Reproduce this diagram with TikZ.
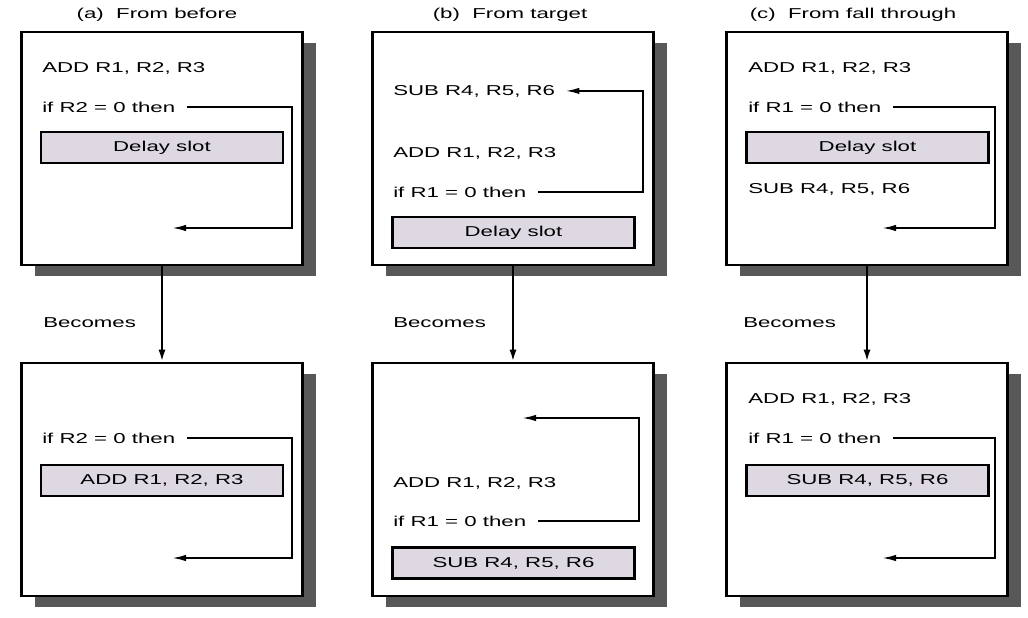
\documentclass[tikz,border=0pt]{standalone}
\usepackage{fontspec}
\usepackage{graphicx}
\setmainfont{Liberation Sans}
\usetikzlibrary{arrows.meta,positioning,shadows}
\definecolor{shadowgray}{RGB}{88,88,88}
\definecolor{slotgray}{RGB}{221,216,226}
\newcommand{\panelfont}{\fontsize{10.2pt}{12pt}\selectfont}
\newcommand{\wide}[1]{\scalebox{1.55}[1]{#1}}

\begin{document}
\begin{tikzpicture}[x=0.025cm, y=-0.025cm,
    panel/.style={rectangle, draw, line width=1.8pt, fill=white, minimum width=7.03cm, minimum height=5.83cm,
        drop shadow={shadow xshift=0.33cm, shadow yshift=-0.28cm, fill=shadowgray, opacity=1}},
    slot/.style={rectangle, draw, line width=1.6pt, fill=slotgray, minimum width=6.05cm, minimum height=0.77cm, inner sep=0pt, font=\panelfont},
    instr/.style={anchor=base west, inner sep=0pt, font=\panelfont},
    title/.style={font=\panelfont},
    jump/.style={line width=1.3pt, -{Latex[length=0.35cm, width=0.16cm]}},
    becomes/.style={line width=1.6pt, -{Latex[length=0.3cm, width=0.18cm]}}
]
    \useasboundingbox (0,0) rectangle (1028,618);

    % Panel boxes
    \node[panel] (topA) at (162,148.5) {};
    \node[panel] (botA) at (162,479.5) {};
    \node[panel] (topB) at (513,148.5) {};
    \node[panel] (botB) at (513,479.5) {};
    \node[panel] (topC) at (867,148.5) {};
    \node[panel] (botC) at (867,479.5) {};

    % Titles
    \node[title] (titleA) at (157,15) {\wide{(a)\ \ From before}};
    \node[title] (titleB) at (510,15) {\wide{(b)\ \ From target}};
    \node[title] (titleC) at (853,15) {\wide{(c)\ \ From fall through}};

    % Right edges of the jump loops
    \coordinate (rA) at (292,0);
    \coordinate (rB) at (643,0);
    \coordinate (rB2) at (639,0);
    \coordinate (rC) at (995,0);

    % (a) From before
    \node[instr] (addA) at (42,72) {\wide{ADD R1, R2, R3}};
    \node[instr] (ifA) at (42,112) {\wide{if R2 = 0 then}};
    \node[slot] (slotA) at (162,147.5) {\wide{Delay slot}};
    \coordinate (tA) at (172,228);
    \draw[jump] ([xshift=0.3cm]ifA.east) -- (ifA.east -| rA) |- (tA);

    \node[instr] (becA) at (43,327) {\wide{Becomes}};
    \node[instr] (ifA2) at (42,443) {\wide{if R2 = 0 then}};
    \node[slot] (slotA2) at (162,480.5) {\wide{ADD R1, R2, R3}};
    \coordinate (tA2) at (172,558);
    \draw[jump] ([xshift=0.3cm]ifA2.east) -- (ifA2.east -| rA) |- (tA2);

    % (b) From target
    \node[instr] (subB) at (393,95) {\wide{SUB R4, R5, R6}};
    \node[instr] (addB) at (393,157) {\wide{ADD R1, R2, R3}};
    \node[instr] (ifB) at (393,197) {\wide{if R1 = 0 then}};
    \node[slot] (slotB) at (513.5,232.5) {\wide{Delay slot}};
    \draw[jump] ([xshift=0.3cm]ifB.east) -- (ifB.east -| rB) |- ([xshift=0.25cm]subB.east);

    \node[instr] (becB) at (393,327) {\wide{Becomes}};
    \node[instr] (addB2) at (393,487) {\wide{ADD R1, R2, R3}};
    \node[instr] (ifB2) at (393,526) {\wide{if R1 = 0 then}};
    \node[slot] (slotB2) at (513.5,563) {\wide{SUB R4, R5, R6}};
    \coordinate (tB2) at (522,418);
    \draw[jump] ([xshift=0.3cm]ifB2.east) -- (ifB2.east -| rB2) |- (tB2);

    % (c) From fall through
    \node[instr] (addC) at (748,72) {\wide{ADD R1, R2, R3}};
    \node[instr] (ifC) at (748,112) {\wide{if R1 = 0 then}};
    \node[slot] (slotC) at (867.5,147.5) {\wide{Delay slot}};
    \node[instr] (subC) at (748,193) {\wide{SUB R4, R5, R6}};
    \coordinate (tC) at (882,228);
    \draw[jump] ([xshift=0.3cm]ifC.east) -- (ifC.east -| rC) |- (tC);

    \node[instr] (becC) at (743,327) {\wide{Becomes}};
    \node[instr] (addC2) at (748,403) {\wide{ADD R1, R2, R3}};
    \node[instr] (ifC2) at (748,443) {\wide{if R1 = 0 then}};
    \node[slot] (slotC2) at (867.5,480.5) {\wide{SUB R4, R5, R6}};
    \coordinate (tC2) at (882,558);
    \draw[jump] ([xshift=0.3cm]ifC2.east) -- (ifC2.east -| rC) |- (tC2);

    % Becomes connectors
    \foreach \p in {A,B,C} {
        \draw[becomes] (top\p.south) -- (bot\p.north);
    }
\end{tikzpicture}
\end{document}
